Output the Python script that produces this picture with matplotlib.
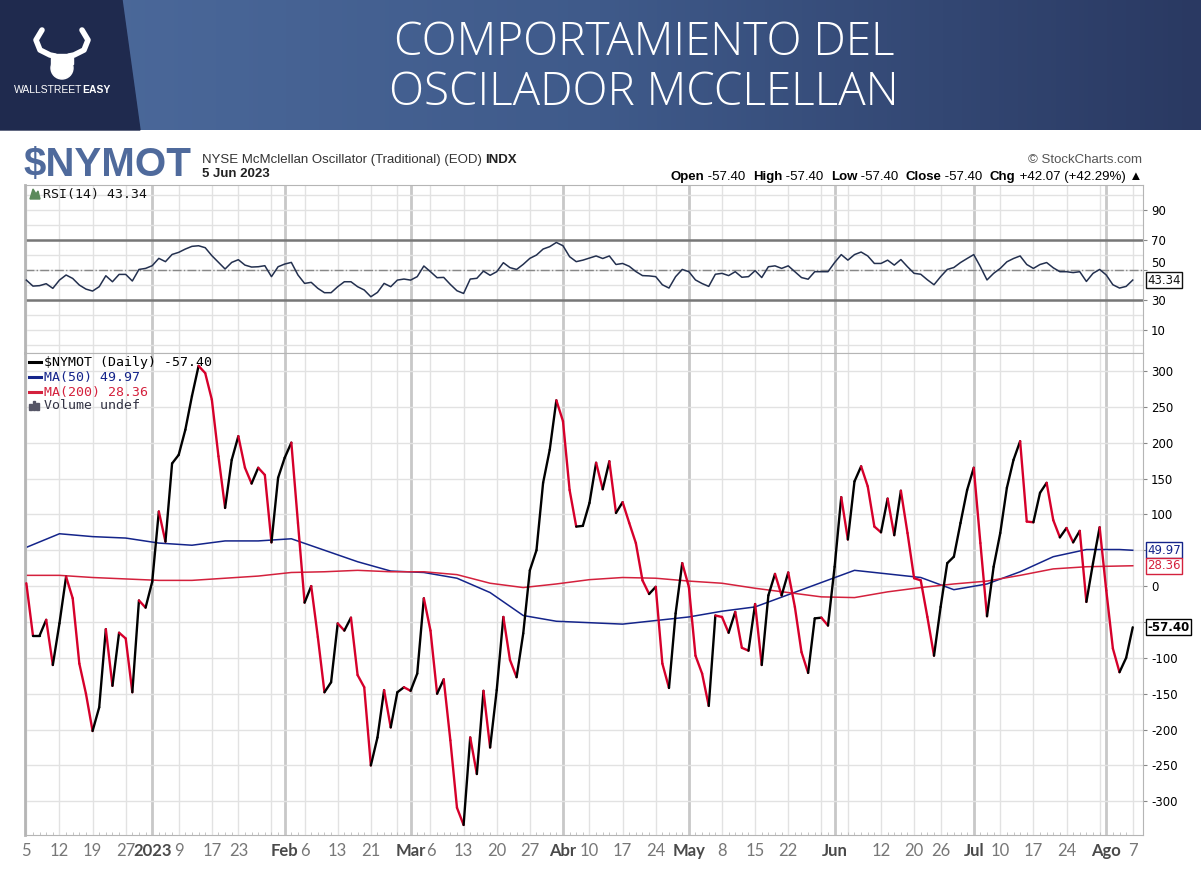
import numpy as np
import pandas as pd
import matplotlib
matplotlib.use('Agg')
import matplotlib.pyplot as plt
import matplotlib.transforms as mtransforms
from matplotlib.collections import LineCollection
from matplotlib.colors import LinearSegmentedColormap
from matplotlib.patches import Polygon, Circle, Rectangle

# sesiones de mercado (dic 2022 - ago 2023)
holidays = ['2022-12-26', '2023-01-02', '2023-01-16', '2023-02-20',
            '2023-04-07', '2023-05-29', '2023-06-19', '2023-07-04']
dates = pd.bdate_range('2022-12-05', '2023-08-07', freq='C', holidays=holidays)

# $NYMOT diario
nymot = [4, -69, -69, -47, -110, -52, 13, -17, -108, -150,
         -202, -169, -60, -139, -65, -73, -148, -20, -30, 6,
         104, 62, 171, 183, 218, 265, 307, 297, 260, 181,
         109, 176, 209, 165, 143, 165, 155, 61, 151, 179,
         200, 88, -23, 0, -71, -148, -134, -52, -62, -44,
         -124, -141, -250, -211, -145, -197, -148, -141, -146, -122,
         -17, -62, -150, -130, -215, -309, -333, -211, -262, -146,
         -225, -145, -43, -103, -127, -66, 22, 50, 144, 190,
         259, 230, 134, 83, 84, 116, 172, 135, 174, 102,
         117, 88, 60, 8, -11, -1, -108, -142, -38, 32,
         -1, -97, -122, -167, -41, -43, -65, -36, -86, -90,
         -25, -110, -13, 17, -13, 19, -29, -92, -121, -45,
         -44, -55, 27, 124, 65, 146, 167, 139, 83, 75,
         122, 71, 133, 74, 11, 8, -43, -97, -29, 32,
         41, 88, 134, 165, 60, -42, 27, 74, 137, 176,
         202, 90, 89, 130, 144, 92, 68, 81, 61, 77,
         -22, 32, 82, -6, -87, -120, -100, -57.40]

# RSI(14)
rsi = [43.3, 39.3, 39.6, 40.9, 37.8, 43.3, 46.7, 44.4, 40, 37.3,
       36, 38.9, 46.2, 42.2, 47.1, 47.1, 42.7, 50.4, 51.1, 52.9,
       57.8, 55.6, 60.4, 61.8, 64, 65.8, 66.2, 64.9, 59.6, 55.1,
       50.7, 55.1, 56.9, 53.3, 52, 52.2, 52.9, 45.6, 52.2, 54,
       55.1, 46.7, 41.1, 41.8, 37.8, 34.9, 34.9, 38.9, 42.2, 42.2,
       38.9, 36.7, 32.2, 35.1, 41.1, 38.9, 43.3, 44, 43.3, 45.6,
       52.7, 48.9, 44.9, 45.1, 40.4, 36.2, 34.4, 44, 44.5, 49.3,
       46.5, 48.9, 54.9, 51.6, 50.4, 53.8, 57.8, 60, 64, 65.6,
       68.4, 66.2, 58.9, 55.6, 56.6, 58, 59.4, 57.7, 59.4, 53.7,
       54.4, 52.5, 49, 46.3, 46.1, 45.6, 40.2, 38, 45.6, 50.4,
       48.9, 43.4, 41, 39.1, 47.2, 47.8, 46.3, 48.9, 45.2, 45.6,
       49.6, 45, 52.2, 52.8, 51.1, 52.8, 48.9, 45, 43.9, 48.9,
       48.9, 48.9, 55, 60.3, 56.6, 60.3, 62, 59.4, 54.4, 54.4,
       56.6, 53.3, 57, 52.2, 47.8, 47.2, 43.5, 40.2, 45.6, 50.4,
       51.7, 55, 57.7, 60.3, 52.2, 43.4, 47.8, 51.1, 55.5, 57.7,
       59.4, 53.7, 51.1, 53.7, 55, 51.5, 48.9, 48.9, 48.3, 48.9,
       42.4, 47.8, 50.4, 46.7, 40.2, 38, 39.1, 43.34]

# medias moviles leidas cada 5 sesiones (+ la ultima)
ma_sessions = list(range(0, 166, 5)) + [167]
ma50 = [54, 73, 69, 67, 60, 57, 63, 63, 66, 50, 34, 21, 19, 11, -9, -41, -49, -51,
        -53, -48, -43, -35, -29, -12, 5, 22, 17, 12, -5, 3, 20, 41, 51, 51, 49.97]
ma200 = [15, 15, 12, 10, 8, 8, 11, 14, 19, 20, 22, 20, 20, 16, 4, -2, 3, 9,
         12, 11, 7, 4, -3, -9, -15, -16, -8, -2, 3, 7, 15, 24, 27, 28, 28.36]

# etiquetas del eje x
tick_dates = ['2022-12-05', '2022-12-12', '2022-12-19', '2022-12-27', '2023-01-03',
              '2023-01-09', '2023-01-17', '2023-01-23', '2023-02-01', '2023-02-06',
              '2023-02-13', '2023-02-21', '2023-03-01', '2023-03-06', '2023-03-13',
              '2023-03-20', '2023-03-27', '2023-04-03', '2023-04-10', '2023-04-17',
              '2023-04-24', '2023-05-01', '2023-05-08', '2023-05-15', '2023-05-22',
              '2023-06-01', '2023-06-12', '2023-06-20', '2023-06-26', '2023-07-03',
              '2023-07-10', '2023-07-17', '2023-07-24', '2023-08-01', '2023-08-07']
tick_labels = ['5', '12', '19', '27', '2023', '9', '17', '23', 'Feb', '6', '13', '21',
               'Mar', '6', '13', '20', '27', 'Abr', '10', '17', '24', 'May', '8', '15',
               '22', 'Jun', '12', '20', '26', 'Jul', '10', '17', '24', 'Ago', '7']
bold_labels = ['2023', 'Feb', 'Mar', 'Abr', 'May', 'Jun', 'Jul', 'Ago']

# etiquetas del eje y (50 y -50 quedan tapadas por las cajas de valor)
main_ticks = [-300, -250, -200, -150, -100, 0, 100, 150, 200, 250, 300]
rsi_ticks = [10, 30, 50, 70, 90]

UP = '#000000'
DOWN = '#d6002b'
NAVY = '#14248a'
RED = '#d4213d'
GRID = '#e2e2e2'
MONTH = '#c8c8c8'

fig = plt.figure(figsize=(12.01, 8.72), dpi=100)
fig.patch.set_facecolor('white')

# capa en pixeles para cabecera y textos
ov = fig.add_axes([0, 0, 1, 1])
ov.axis('off')
ov.patch.set_visible(False)
ov.set_zorder(5)
grad = np.linspace(0, 1, 256).reshape(1, -1)
cmap = LinearSegmentedColormap.from_list('banner', ['#4d6b9d', '#3f5a8a', '#2a3962'])
ov.imshow(grad, extent=(0, 1201, 130, 0), aspect='auto', cmap=cmap)
ov.add_patch(Polygon([(0, 0), (122, 0), (140, 130), (0, 130)], color='#1f2a4e'))
ov.set_xlim(0, 1201)
ov.set_ylim(872, 0)

renderer = fig.canvas.get_renderer()


def put_parts(x, y, parts, ha='left', size=9.5, family=('Liberation Sans', 'DejaVu Sans')):
    items = []
    for s, kw in parts:
        t = ov.text(0, y, s, fontsize=size, va='center', family=list(family), **kw)
        items.append((t, t.get_window_extent(renderer).width))
    total = sum(w for _, w in items)
    if ha == 'right':
        cx = x - total
    elif ha == 'center':
        cx = x - total / 2
    else:
        cx = x
    for t, w in items:
        t.set_x(cx)
        cx += w


# logo
ov.plot([42, 36, 40, 50, 55], [30, 40, 50, 55, 56], color='white', lw=4, solid_capstyle='round')
ov.plot([82, 88, 84, 74, 69], [30, 40, 50, 55, 56], color='white', lw=4, solid_capstyle='round')
ov.add_patch(Circle((62, 68), 11, color='white'))
ov.add_patch(Rectangle((51, 54), 22, 10, color='white'))
put_parts(62, 90, [('WALLSTREET', dict(color='white')), ('EASY', dict(color='white', fontweight='bold'))],
          ha='center', size=7.5)

for txt, yy in [('COMPORTAMIENTO DEL', 43), ('OSCILADOR MCCLELLAN', 93)]:
    ov.text(644, yy, txt, color='white', fontsize=33, ha='center', va='center',
            family=['Open Sans', 'DejaVu Sans'], fontweight='light')

ov.text(24, 165, '$NYMOT', color='#4f6a9c', fontsize=29, fontweight='bold', va='center',
        family=['Liberation Sans Narrow', 'Liberation Sans'])
put_parts(202, 160, [('NYSE McMclellan Oscillator (Traditional) (EOD) ', dict(color='#333333')),
                     ('INDX', dict(color='#222222', fontweight='bold'))])
put_parts(202, 174, [('5 Jun 2023', dict(color='#222222', fontweight='bold'))])
put_parts(1142, 160, [('\u00a9 StockCharts.com', dict(color='#555555'))], ha='right')
put_parts(1142, 177, [('Open', dict(fontweight='bold')), (' -57.40  ', {}),
                      ('High', dict(fontweight='bold')), (' -57.40  ', {}),
                      ('Low', dict(fontweight='bold')), (' -57.40  ', {}),
                      ('Close', dict(fontweight='bold')), (' -57.40  ', {}),
                      ('Chg', dict(fontweight='bold')), (' +42.07 (+42.29%) \u25b2', {})],
          ha='right')

# paneles
L, W = 25 / 1201, (1142.7 - 25) / 1201
ax_rsi = fig.add_axes([L, 1 - 353 / 872, W, (353 - 185) / 872])
ax = fig.add_axes([L, 1 - 835 / 872, W, (835 - 353) / 872], sharex=ax_rsi)

x = np.arange(len(nymot))
week_start = [i for i in range(len(dates))
              if i == 0 or dates[i].isocalendar()[1] != dates[i - 1].isocalendar()[1]]
month_start = [i for i in range(1, len(dates)) if dates[i].month != dates[i - 1].month]

for a in (ax, ax_rsi):
    for i in week_start:
        a.axvline(i, color=GRID, lw=1, zorder=0)
    for i in month_start:
        a.axvline(i, color=MONTH, lw=2, zorder=0)
    for s in a.spines.values():
        s.set_color('#b5b5b5')
    a.spines['left'].set_linewidth(2)

# RSI
ax_rsi.set_ylim(-5.3, 106.7)
for lv in range(0, 101, 10):
    ax_rsi.axhline(lv, color=GRID, lw=1, zorder=0)
ax_rsi.axhline(70, color='#777777', lw=1.8, zorder=1)
ax_rsi.axhline(30, color='#777777', lw=1.8, zorder=1)
ax_rsi.axhline(50, color='#888888', lw=1, ls='-.', zorder=1)
ax_rsi.plot(x, rsi, color='#23304f', lw=1.1, zorder=3)
ax_rsi.yaxis.tick_right()
ax_rsi.set_yticks(rsi_ticks)
ax_rsi.tick_params(axis='y', length=3, width=0.8, color='#888888', pad=3, labelsize=8.5)
ax_rsi.tick_params(axis='x', bottom=False, labelbottom=False)
for lab in ax_rsi.get_yticklabels():
    lab.set_verticalalignment('bottom' if lab.get_text() == '50' else 'center_baseline')

# oscilador: negro al subir, rojo al bajar
vals = np.array(nymot, dtype=float)
segs = [[(x[i], vals[i]), (x[i + 1], vals[i + 1])] for i in range(len(vals) - 1)]
cols = [UP if vals[i + 1] >= vals[i] else DOWN for i in range(len(vals) - 1)]
ax.set_ylim(-347, 325)
for lv in range(-300, 301, 50):
    ax.axhline(lv, color=GRID, lw=1, zorder=0)
ax.plot(ma_sessions, ma50, color=NAVY, lw=1.1, zorder=2)
ax.plot(ma_sessions, ma200, color=RED, lw=1.1, zorder=2)
ax.add_collection(LineCollection(segs, colors=cols, linewidths=1.7, zorder=3,
                                 capstyle='round', joinstyle='round'))
ax.yaxis.tick_right()
ax.set_yticks(range(-300, 301, 50))
ax.set_yticklabels([str(v) if v in main_ticks else '' for v in range(-300, 301, 50)])
ax.tick_params(axis='y', length=3, width=0.8, color='#888888', pad=3, labelsize=8.5)

ax.set_xlim(-0.2, 168.5)
tick_pos = dates.get_indexer(pd.to_datetime(tick_dates))
ax.set_xticks(tick_pos)
ax.set_xticklabels(tick_labels)
ax.set_xticks(x, minor=True)
ax.tick_params(axis='x', which='major', length=0, pad=6, labelsize=12, labelcolor='#777777')
ax.tick_params(axis='x', which='minor', length=2.5, direction='in', color='#bbbbbb')
for lab in ax.get_xticklabels():
    lab.set_family(['Lato', 'DejaVu Sans'])
    if lab.get_text() in bold_labels:
        lab.set_fontweight('bold')
        lab.set_color('#4a4a4a')


# etiquetas de valor a la derecha
def value_tag(a, y, txt, color, bold=False):
    tr = mtransforms.blended_transform_factory(a.transAxes, a.transData)
    a.text(1.004, y, txt, transform=tr, ha='left', va='center', fontsize=8.5,
           color=color, fontweight='bold' if bold else 'normal', clip_on=False, zorder=10,
           bbox=dict(boxstyle='square,pad=0.12', fc='white', ec=color, lw=1))


value_tag(ax_rsi, rsi[-1], '43.34', '#111111')
value_tag(ax, ma50[-1], '49.97', NAVY)
value_tag(ax, ma200[-1], '28.36', RED)
value_tag(ax, nymot[-1], '-57.40', '#000000', bold=True)

# leyendas
mono = 'DejaVu Sans Mono'
ov.add_patch(Polygon([(30, 199), (33, 189), (36, 194), (38, 191), (40, 199)], color='#5b8a5b'))
ov.text(43, 194, 'RSI(14) 43.34', fontsize=9.5, va='center', color='#111111', family=mono)
leg = [('$NYMOT (Daily) -57.40', UP, 362), ('MA(50) 49.97', NAVY, 377), ('MA(200) 28.36', RED, 392)]
for txt, c, yy in leg:
    ov.plot([29, 41], [yy, yy], color=c, lw=2.2)
    ov.text(44, yy, txt, fontsize=9.5, va='center', color=c, family=mono)
for k, h in enumerate([6, 9, 7]):
    ov.add_patch(Rectangle((29 + 3.5 * k, 410 - h), 2.5, h, color='#555566'))
ov.text(44, 405, 'Volume undef', fontsize=9.5, va='center', color='#333344', family=mono)

fig.savefig('out.png', dpi=100)
